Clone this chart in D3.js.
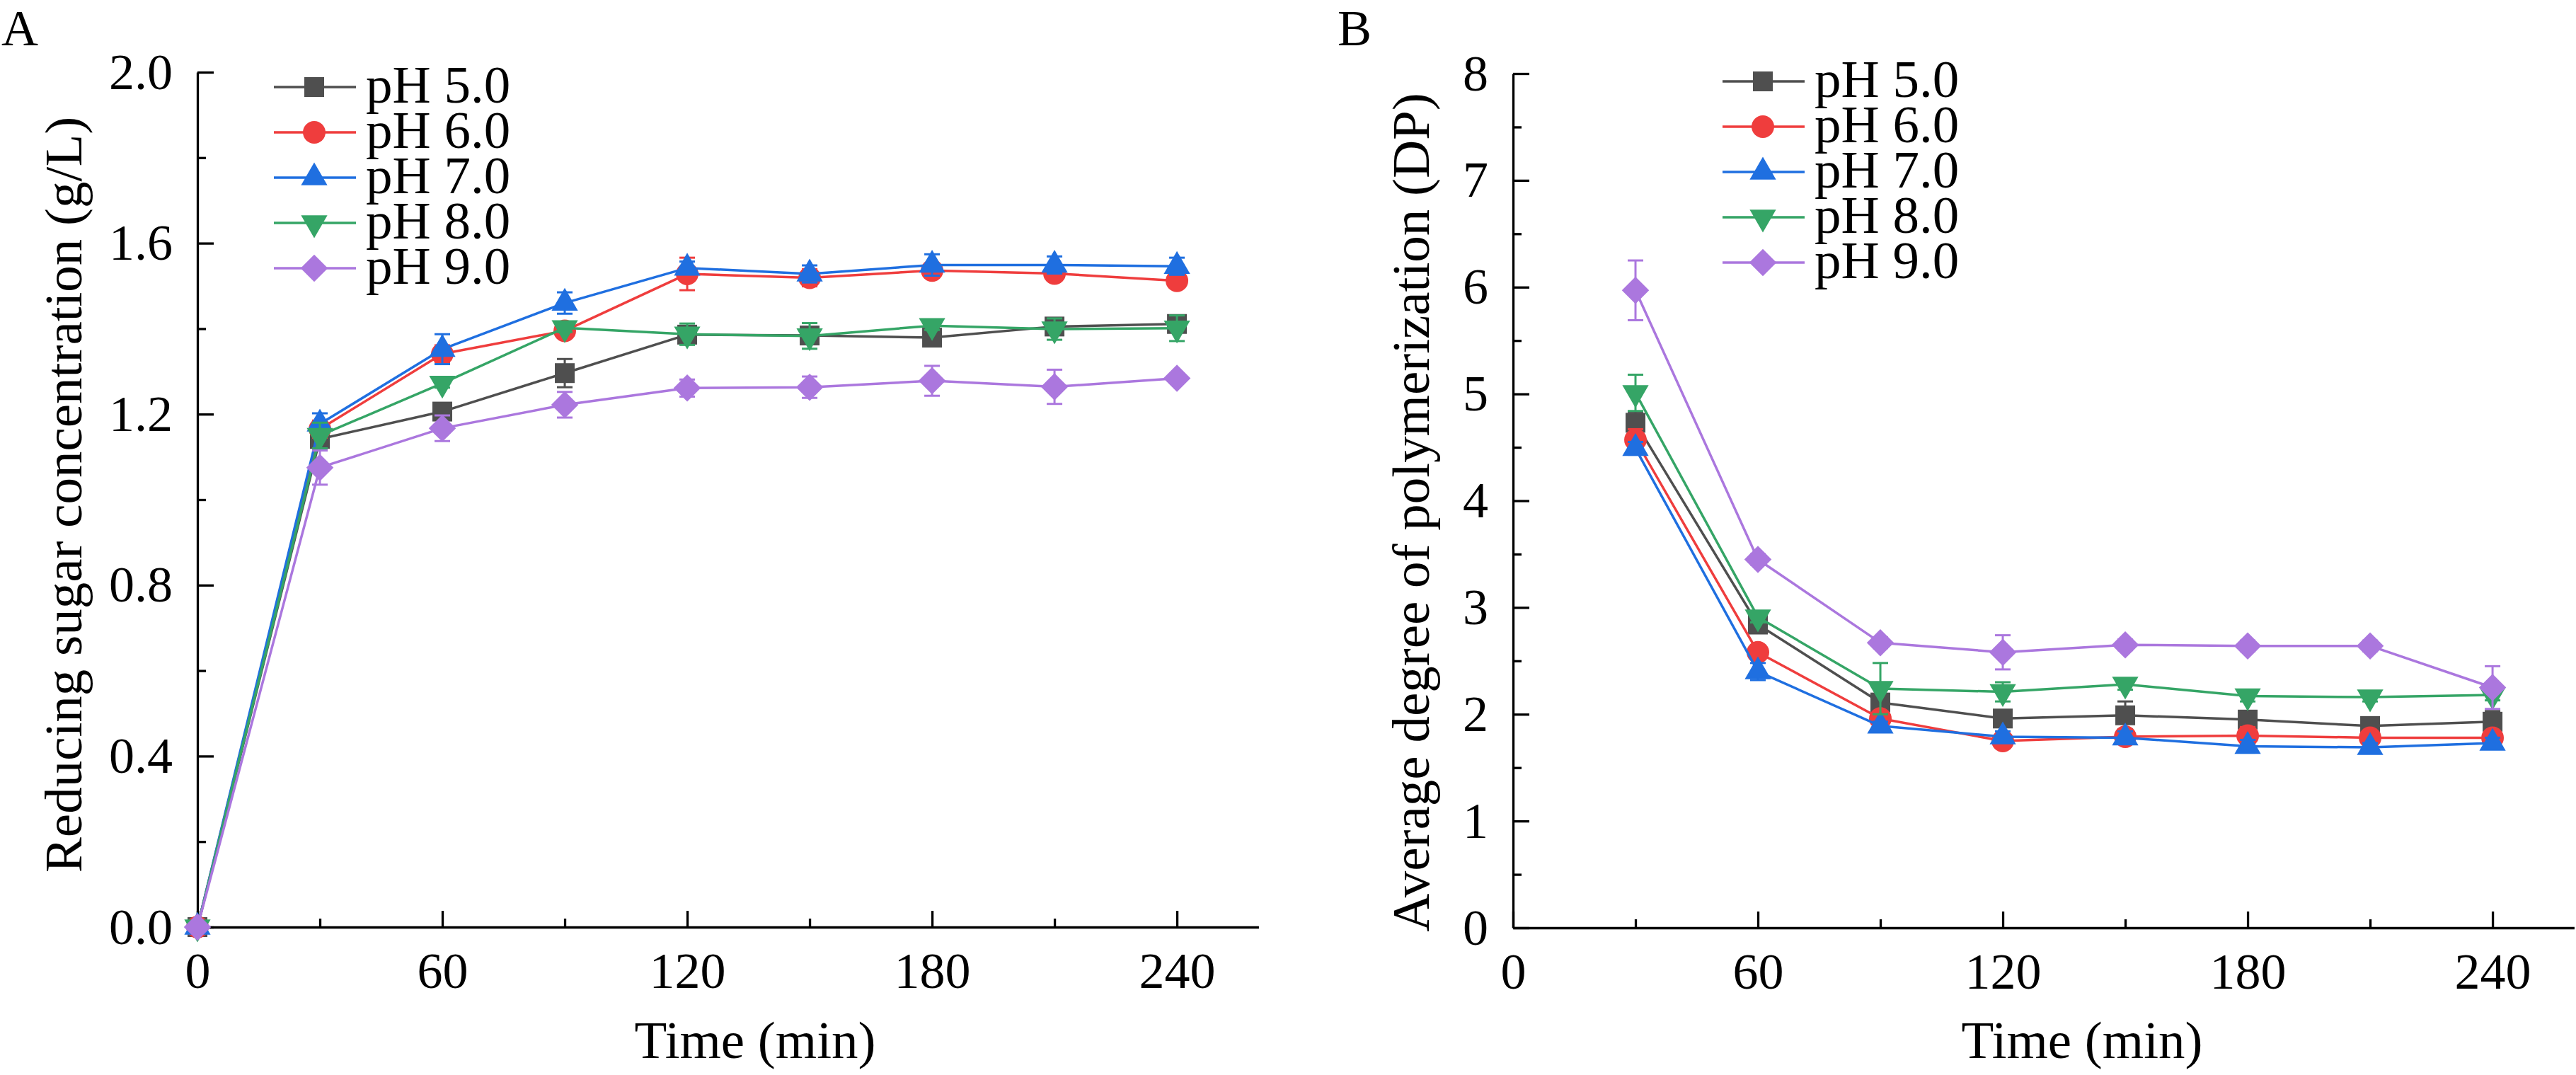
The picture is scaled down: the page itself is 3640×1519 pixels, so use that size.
<!DOCTYPE html>
<html><head><meta charset="utf-8">
<script src="https://cdn.jsdelivr.net/npm/d3@7"></script>
<style>
body{margin:0;background:#fff}
svg{display:block}
text{font-family:"Liberation Serif","Times New Roman",Times,serif;fill:#000}
</style>
</head><body>
<svg id="chart" width="3640" height="1519"></svg>
<script>
// ---------- data ----------
const seriesNames = ["pH 5.0", "pH 6.0", "pH 7.0", "pH 8.0", "pH 9.0"];
const seriesColors = ["#4f4f4f", "#ef3d3d", "#1f6fe0", "#35a566", "#ab77de"];
const seriesSymbols = ["square", "circle", "triangle", "triangleDown", "diamond"];

// Panel A: reducing sugar concentration (g/L)
const timeA = [0, 30, 60, 90, 120, 150, 180, 210, 240];
const sugarPH5 = [0, 1.142, 1.206, 1.296, 1.386, 1.384, 1.379, 1.405, 1.411];
const sugarPH6 = [0, 1.165, 1.341, 1.395, 1.528, 1.519, 1.536, 1.529, 1.512];
const sugarPH7 = [0, 1.177, 1.352, 1.460, 1.542, 1.528, 1.549, 1.549, 1.546];
const sugarPH8 = [0, 1.150, 1.272, 1.402, 1.387, 1.383, 1.407, 1.399, 1.401];
const sugarPH9 = [0, 1.075, 1.167, 1.222, 1.261, 1.263, 1.278, 1.264, 1.284];
const sugarErrPH5 = [0, 0.02, 0.01, 0.033, 0.01, 0.02, 0.015, 0.01, 0.015];
const sugarErrPH6 = [0, 0.02, 0.02, 0.015, 0.038, 0.02, 0.01, 0.015, 0.01];
const sugarErrPH7 = [0, 0.025, 0.035, 0.025, 0.015, 0.02, 0.025, 0.02, 0.02];
const sugarErrPH8 = [0, 0.03, 0.01, 0.01, 0.025, 0.03, 0.01, 0.025, 0.03];
const sugarErrPH9 = [0, 0.04, 0.03, 0.03, 0.02, 0.025, 0.035, 0.04, 0.01];

// Panel B: average degree of polymerization (DP)
const timeB = [30, 60, 90, 120, 150, 180, 210, 240];
const dpPH5 = [4.73, 2.84, 2.11, 1.96, 1.99, 1.95, 1.89, 1.93];
const dpPH6 = [4.57, 2.58, 1.96, 1.75, 1.79, 1.80, 1.78, 1.78];
const dpPH7 = [4.49, 2.40, 1.89, 1.79, 1.78, 1.70, 1.69, 1.73];
const dpPH8 = [5.01, 2.91, 2.24, 2.21, 2.28, 2.17, 2.16, 2.18];
const dpPH9 = [5.97, 3.45, 2.67, 2.58, 2.65, 2.64, 2.64, 2.25];
const dpErrPH5 = [0.10, 0.06, 0.05, 0.05, 0.13, 0.05, 0.04, 0.10];
const dpErrPH6 = [0.10, 0.05, 0.06, 0.05, 0.06, 0.08, 0.05, 0.06];
const dpErrPH7 = [0.06, 0.08, 0.04, 0.05, 0.06, 0.06, 0.04, 0.05];
const dpErrPH8 = [0.17, 0.05, 0.24, 0.09, 0.05, 0.05, 0.04, 0.05];
const dpErrPH9 = [0.28, 0.05, 0.05, 0.16, 0.05, 0.05, 0.05, 0.20];

// tick labels
const xMajorTicks = [0, 60, 120, 180, 240];
const xMinorTicks = [30, 90, 150, 210];
const yMajorTicksA = [0, 0.4, 0.8, 1.2, 1.6, 2.0];
const yMinorTicksA = [0.2, 0.6, 1.0, 1.4, 1.8];
const yMajorTicksB = [0, 1, 2, 3, 4, 5, 6, 7, 8];
const yMinorTicksB = [0.5, 1.5, 2.5, 3.5, 4.5, 5.5, 6.5, 7.5];

// ---------- drawing ----------
const svg = d3.select("#chart");
const TICK_FS = 72, TITLE_FS = 75, LEG_FS = 75;

function symbolPath(kind) {
  const map = {
    square: [d3.symbolSquare, 784, 0],
    circle: [d3.symbolCircle, 800, 0],
    triangle: [d3.symbolTriangle, 600, 0],
    triangleDown: [d3.symbolTriangle, 600, 180],
    diamond: [d3.symbolSquare, 740, 45]
  };
  const m = map[kind];
  return { d: d3.symbol().type(m[0]).size(m[1])(), rot: m[2] };
}

function drawPanel(cfg) {
  const g = svg.append("g");
  const x = d3.scaleLinear().domain([0, 260]).range([cfg.left, cfg.left + 260 * 5.767]);
  const y = d3.scaleLinear().domain(cfg.yDomain).range([cfg.bottom, cfg.top]);

  // minor ticks
  g.append("g").attr("transform", `translate(0,${cfg.bottom})`)
    .call(d3.axisBottom(x).tickValues(xMinorTicks).tickSize(-12).tickSizeOuter(0).tickFormat(""))
    .call(a => a.select(".domain").remove());
  g.append("g").attr("transform", `translate(${cfg.left},0)`)
    .call(d3.axisLeft(y).tickValues(cfg.yMinor).tickSize(-12).tickSizeOuter(0).tickFormat(""))
    .call(a => a.select(".domain").remove());

  // major axes
  g.append("g").attr("transform", `translate(0,${cfg.bottom})`)
    .call(d3.axisBottom(x).tickValues(xMajorTicks).tickSize(-23).tickSizeOuter(0).tickPadding(35).tickFormat(d3.format("d")));
  g.append("g").attr("transform", `translate(${cfg.left},0)`)
    .call(d3.axisLeft(y).tickValues(cfg.yMajor).tickSize(-23).tickSizeOuter(0).tickPadding(35).tickFormat(cfg.yFormat));
  g.selectAll(".tick line, .domain").attr("stroke", "#000").attr("stroke-width", 3.3);
  g.selectAll("g").attr("font-family", null);
  g.selectAll(".tick text").attr("font-size", TICK_FS).attr("fill", "#000");

  // axis titles
  g.append("text").attr("x", cfg.xTitleX).attr("y", 1495)
    .attr("text-anchor", "middle").attr("font-size", TITLE_FS).text("Time (min)");
  g.append("text").attr("transform", `translate(${cfg.yTitleX},${cfg.yTitleY}) rotate(-90)`)
    .attr("text-anchor", "middle").attr("font-size", TITLE_FS).text(cfg.yTitle);
  // panel letter
  g.append("text").attr("x", cfg.letterX).attr("y", 64).attr("font-size", 72).text(cfg.letter);

  // series
  const line = d3.line().x(d => x(d.t)).y(d => y(d.v));
  cfg.series.forEach((vals, i) => {
    const col = seriesColors[i];
    const pts = cfg.times.map((t, k) => ({ t, v: vals[k], e: cfg.errors[i][k] }));
    const sg = g.append("g");
    sg.append("path").datum(pts).attr("d", line).attr("fill", "none")
      .attr("stroke", col).attr("stroke-width", 3.5).attr("stroke-linejoin", "round");
    const eb = sg.selectAll(".eb").data(pts.filter(p => p.e > 0)).enter().append("g");
    eb.append("line").attr("x1", d => x(d.t)).attr("x2", d => x(d.t))
      .attr("y1", d => y(d.v - d.e)).attr("y2", d => y(d.v + d.e))
      .attr("stroke", col).attr("stroke-width", 3);
    [-1, 1].forEach(s => {
      eb.append("line").attr("x1", d => x(d.t) - 11).attr("x2", d => x(d.t) + 11)
        .attr("y1", d => y(d.v + s * d.e)).attr("y2", d => y(d.v + s * d.e))
        .attr("stroke", col).attr("stroke-width", 3);
    });
    const sym = symbolPath(seriesSymbols[i]);
    sg.selectAll(".mk").data(pts).enter().append("path")
      .attr("d", sym.d).attr("fill", col)
      .attr("transform", d => `translate(${x(d.t)},${y(d.v)}) rotate(${sym.rot})`);
  });

  // legend
  const lg = g.append("g");
  seriesNames.forEach((name, i) => {
    const ly = cfg.legY + i * 64;
    lg.append("line").attr("x1", cfg.legX).attr("x2", cfg.legX + 116)
      .attr("y1", ly).attr("y2", ly).attr("stroke", seriesColors[i]).attr("stroke-width", 3.5);
    const sym = symbolPath(seriesSymbols[i]);
    lg.append("path").attr("d", sym.d).attr("fill", seriesColors[i])
      .attr("transform", `translate(${cfg.legX + 57},${ly}) rotate(${sym.rot})`);
    lg.append("text").attr("x", cfg.legX + 130).attr("y", ly).attr("dy", "0.29em")
      .attr("font-size", LEG_FS).text(name);
  });
}

drawPanel({
  left: 279, top: 102, bottom: 1310,
  yDomain: [0, 2.0], yMajor: yMajorTicksA, yMinor: yMinorTicksA, yFormat: d3.format(".1f"),
  yTitle: "Reducing sugar concentration (g/L)", yTitleX: 115, yTitleY: 699,
  xTitleX: 1067, letter: "A", letterX: 2,
  times: timeA,
  series: [sugarPH5, sugarPH6, sugarPH7, sugarPH8, sugarPH9],
  errors: [sugarErrPH5, sugarErrPH6, sugarErrPH7, sugarErrPH8, sugarErrPH9],
  legX: 387, legY: 123
});

drawPanel({
  left: 2138, top: 104, bottom: 1311,
  yDomain: [0, 8], yMajor: yMajorTicksB, yMinor: yMinorTicksB, yFormat: d3.format("d"),
  yTitle: "Average degree of polymerization (DP)", yTitleX: 2019, yTitleY: 724,
  xTitleX: 2942, letter: "B", letterX: 1890,
  times: timeB,
  series: [dpPH5, dpPH6, dpPH7, dpPH8, dpPH9],
  errors: [dpErrPH5, dpErrPH6, dpErrPH7, dpErrPH8, dpErrPH9],
  legX: 2434, legY: 115
});
</script>
</body></html>
